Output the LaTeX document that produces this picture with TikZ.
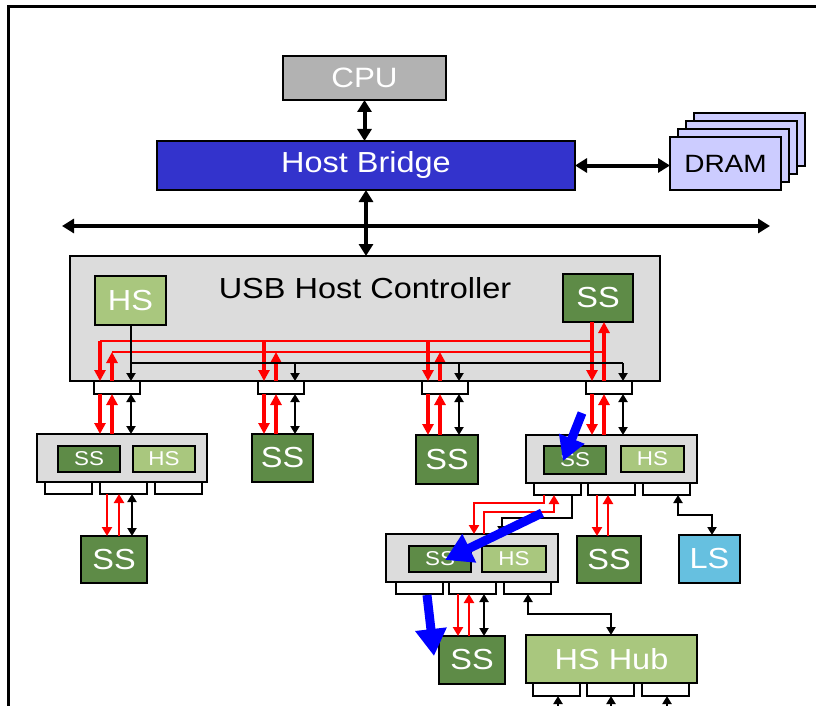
\documentclass[tikz,border=0pt]{standalone}
\usepackage{graphicx}
\usepackage{fontspec}
\setmainfont{Liberation Sans}
\usetikzlibrary{arrows.meta,calc}
\definecolor{ssgreen}{HTML}{5E8B47}
\definecolor{hsgreen}{HTML}{A9C77E}
\definecolor{hubgray}{HTML}{DCDCDC}
\definecolor{cpugray}{HTML}{B2B2B2}
\definecolor{hbblue}{HTML}{3333CC}
\definecolor{dramfill}{HTML}{CCCCFF}
\definecolor{lsblue}{HTML}{66C0E0}
\definecolor{arrblue}{HTML}{0000FF}
\newcommand\fs[1]{\fontsize{#1pt}{#1pt}\selectfont}
\newcommand\sx[1]{\scalebox{1.12}[1]{#1}}
\tikzset{
  bx/.style={draw=black, line width=2.5pt, inner sep=0pt, outer sep=0pt, anchor=north west},
  inbox/.style={draw=black, line width=1.8pt, inner sep=0pt, outer sep=0pt, anchor=north west},
  portbox/.style={draw=black, fill=white, line width=2pt, inner sep=0pt, outer sep=0pt, anchor=north west, minimum width=47pt, minimum height=12pt},
  ssdev/.style={bx, fill=ssgreen, text=white, font=\fs{29}},
  hubbox/.style={bx, fill=hubgray},
  ssin/.style={inbox, fill=ssgreen, text=white, font=\fs{20}, minimum height=26pt},
  hsin/.style={inbox, fill=hsgreen, text=white, font=\fs{20}, minimum height=26pt},
  dram/.style={bx, fill=dramfill, minimum width=111pt, minimum height=53pt, font=\fs{25}},
  rarr/.style={draw=red, line width=3.2pt, -{Triangle[length=11pt,width=11pt]}},
  rline/.style={draw=red, line width=2.5pt},
  rthin/.style={draw=red, line width=2.4pt, -{Triangle[length=9pt,width=10pt]}},
  barr/.style={draw=black, line width=2pt, -{Triangle[length=8pt,width=9pt]}},
  bline/.style={draw=black, line width=2pt},
  bdbl/.style={draw=black, line width=2.5pt, {Triangle[length=8pt,width=9pt]}-{Triangle[length=8pt,width=9pt]}},
  bigdbl/.style={draw=black, line width=4pt, {Triangle[length=12pt,width=14pt]}-{Triangle[length=12pt,width=14pt]}},
  bluearr/.style={draw=arrblue, line width=9pt, -{Triangle[length=27pt,width=30pt]}}
}
\begin{document}
\begin{tikzpicture}[x=1pt,y=-1pt]
\useasboundingbox (0,0) rectangle (816,706);
% frame
\coordinate (fbl) at (8,706);
\coordinate (ftl) at (8,7);
\coordinate (ftr) at (816,7);
\draw[line width=3pt] (fbl) -- (ftl) -- (ftr);

% top
\node[bx, fill=cpugray, text=white, font=\fs{28}, minimum width=163pt, minimum height=44pt] (cpu) at (283,56) {\sx{CPU}};
\node[bx, fill=hbblue, text=white, font=\fs{29}, minimum width=418pt, minimum height=49pt] (hb) at (157,141) {\sx{Host Bridge}};
\node[dram] (d4) at (694,113) {};
\node[dram] (d3) at (686,121) {};
\node[dram] (d2) at (678,129) {};
\node[dram] (d1) at (670,137) {\sx{DRAM}};
\draw[bigdbl] (cpu.south) -- (cpu.south |- hb.north);
\draw[bigdbl] (hb.east) -- (hb.east -| d1.west);
\coordinate (busL) at (62,226);
\coordinate (busR) at (770,226);
\draw[bigdbl] (busL) -- (busR);

% USB host controller
\node[hubbox, minimum width=590pt, minimum height=125pt] (usb) at (70,256) {};
\node[font=\fs{29}] (usbt) at (365,288) {\sx{USB Host Controller}};
\node[bx, line width=2pt, fill=hsgreen, text=white, font=\fs{29}, minimum width=71pt, minimum height=49pt] (hsu) at (95,276) {\sx{HS}};
\node[bx, line width=2pt, fill=ssgreen, text=white, font=\fs{29}, minimum width=70pt, minimum height=48pt] (ssu) at (563,274) {\sx{SS}};
\draw[bigdbl] (hb.south) -- (hb.south |- usb.north);

\node[portbox, minimum width=46pt, minimum height=13pt] (p1) at (94,381) {};
\node[portbox, minimum width=46pt, minimum height=13pt] (p2) at (258,381) {};
\node[portbox, minimum width=46pt, minimum height=13pt] (p3) at (422,381) {};
\node[portbox, minimum width=46pt, minimum height=13pt] (p4) at (586,381) {};

\coordinate (ya) at (0,341);
\coordinate (yb) at (0,352);
\coordinate (yc) at (0,363);
% red A (down)
\draw[rline] ([xshift=6pt]p1.north west |- ya) -- ([xshift=29pt]ssu.south west |- ya);
\draw[rarr] ([xshift=29pt]ssu.south west) -- ([xshift=29pt]ssu.south west |- p4.north);
\foreach \i in {1,2,3}{\draw[rarr] ([xshift=6pt]p\i.north west |- ya) -- ([xshift=6pt]p\i.north west);}
% red B (up)
\draw[rline] ([xshift=18pt]p1.north west |- yb) -- ([xshift=41pt]ssu.south west |- yb);
\draw[rarr] ([xshift=41pt]ssu.south west |- p4.north) -- ([xshift=41pt]ssu.south west);
\foreach \i in {1,2,3}{\draw[rarr] ([xshift=18pt]p\i.north west) -- ([xshift=18pt]p\i.north west |- yb);}
% black
\draw[barr] ([xshift=36pt]hsu.south west) -- ([xshift=36pt]hsu.south west |- p1.north);
\draw[bline] ([xshift=36pt]hsu.south west |- yc) -- ([xshift=37pt]p4.north west |- yc);
\foreach \i in {2,3,4}{\draw[barr] ([xshift=37pt]p\i.north west |- yc) -- ([xshift=37pt]p\i.north west);}

% level 1 devices
\node[hubbox, minimum width=170pt, minimum height=48pt] (hub1) at (37,434) {};
\node[ssin, minimum width=62pt] (h1s) at (58,446) {\sx{SS}};
\node[hsin, minimum width=62pt] (h1h) at (133,446) {\sx{HS}};
\node[portbox] (h1a) at (45,482) {};
\node[portbox] (h1b) at (100,482) {};
\node[portbox] (h1c) at (155,482) {};
\node[ssdev, minimum width=61pt, minimum height=48pt] (ss2) at (252,434) {\sx{SS}};
\node[ssdev, minimum width=62pt, minimum height=49pt] (ss3) at (416,435) {\sx{SS}};
\node[hubbox, minimum width=171pt, minimum height=48pt] (hub4) at (526,435) {};
\node[ssin, minimum width=62pt, minimum height=28pt] (h4s) at (544,446) {\sx{SS}};
\node[hsin, minimum width=63pt] (h4h) at (621,446) {\sx{HS}};
\node[portbox] (h4a) at (534,483) {};
\node[portbox] (h4b) at (588,483) {};
\node[portbox] (h4c) at (643,483) {};

\foreach \p/\d in {p1/hub1,p2/ss2,p3/ss3,p4/hub4}{
  \draw[rarr] ([xshift=6pt]\p.south west) -- ([xshift=6pt]\p.south west |- \d.north);
  \draw[rarr] ([xshift=18pt]\p.south west |- \d.north) -- ([xshift=18pt]\p.south west);
  \draw[bdbl] ([xshift=37pt]\p.south west) -- ([xshift=37pt]\p.south west |- \d.north);
}

% level 2
\node[ssdev, minimum width=66pt, minimum height=47pt] (ss1b) at (81,536) {\sx{SS}};
\draw[rthin] ([xshift=7pt]h1b.south west) -- ([xshift=7pt]h1b.south west |- ss1b.north);
\draw[rthin] ([xshift=19pt]h1b.south west |- ss1b.north) -- ([xshift=19pt]h1b.south west);
\draw[bdbl] ([xshift=32pt]h1b.south west) -- ([xshift=32pt]h1b.south west |- ss1b.north);

\node[hubbox, minimum width=172pt, minimum height=48pt] (hub5) at (386,534) {};
\node[ssin, minimum width=62pt] (h5s) at (409,546) {\sx{SS}};
\node[hsin, minimum width=64pt] (h5h) at (482,546) {\sx{HS}};
\node[portbox] (h5a) at (396,582) {};
\node[portbox] (h5b) at (449,582) {};
\node[portbox] (h5c) at (504,582) {};
\node[ssdev, minimum width=64pt, minimum height=47pt] (ss4b) at (577,536) {\sx{SS}};
\node[bx, fill=lsblue, text=white, font=\fs{29}, minimum width=61pt, minimum height=48pt] (ls) at (679,535) {\sx{LS}};

\draw[rthin] ([xshift=10pt]h4a.south west) -- ++(0,8) -| ([xshift=88pt]hub5.north west);
\draw[rthin] ([xshift=98pt]hub5.north west) -- ++(0,-22) -| ([xshift=20pt]h4a.south west);
\draw[barr] ([xshift=38pt]h4a.south west) -- ++(0,23) -| ([xshift=116pt]hub5.north west);
\draw[rthin] ([xshift=9pt]h4b.south west) -- ([xshift=9pt]h4b.south west |- ss4b.north);
\draw[rthin] ([xshift=20pt]h4b.south west |- ss4b.north) -- ([xshift=20pt]h4b.south west);
\draw[bdbl] ([xshift=35pt]h4c.south west) -- ++(0,20) -| ([xshift=33pt]ls.north west);

% level 3
\node[ssdev, minimum width=66pt, minimum height=48pt] (ss5b) at (439,636) {\sx{SS}};
\node[bx, fill=hsgreen, text=white, font=\fs{29}, minimum width=171pt, minimum height=48pt] (hshub) at (526,635) {\sx{HS Hub}};
\node[portbox, minimum height=13pt] (hha) at (533,683) {};
\node[portbox, minimum height=13pt] (hhb) at (587,683) {};
\node[portbox, minimum height=13pt] (hhc) at (642,683) {};
\draw[rthin] ([xshift=9pt]h5b.south west) -- ([xshift=9pt]h5b.south west |- ss5b.north);
\draw[rthin] ([xshift=20pt]h5b.south west |- ss5b.north) -- ([xshift=20pt]h5b.south west);
\draw[bdbl] ([xshift=35pt]h5b.south west) -- ([xshift=35pt]h5b.south west |- ss5b.north);
\draw[bdbl] ([xshift=24pt]h5c.south west) -- ++(0,20) -| ([xshift=85pt]hshub.north west);
\foreach \q/\o in {hha/25,hhb/24,hhc/25}{
  \draw[barr] ([xshift=\o pt,yshift=-14pt]\q.south west) -- ([xshift=\o pt]\q.south west);
}

% blue arrows
\coordinate (b1s) at (582,413);
\coordinate (b1e) at (563,461);
\coordinate (b2s) at (542,513);
\coordinate (b2e) at (445,560);
\coordinate (b3s) at (427,595);
\coordinate (b3e) at (434,656);
\draw[bluearr, -{Triangle[length=24pt,width=26pt]}] (b1s) -- (b1e);
\draw[bluearr] (b2s) -- (b2e);
\draw[bluearr] (b3s) -- (b3e);
\end{tikzpicture}
\end{document}
